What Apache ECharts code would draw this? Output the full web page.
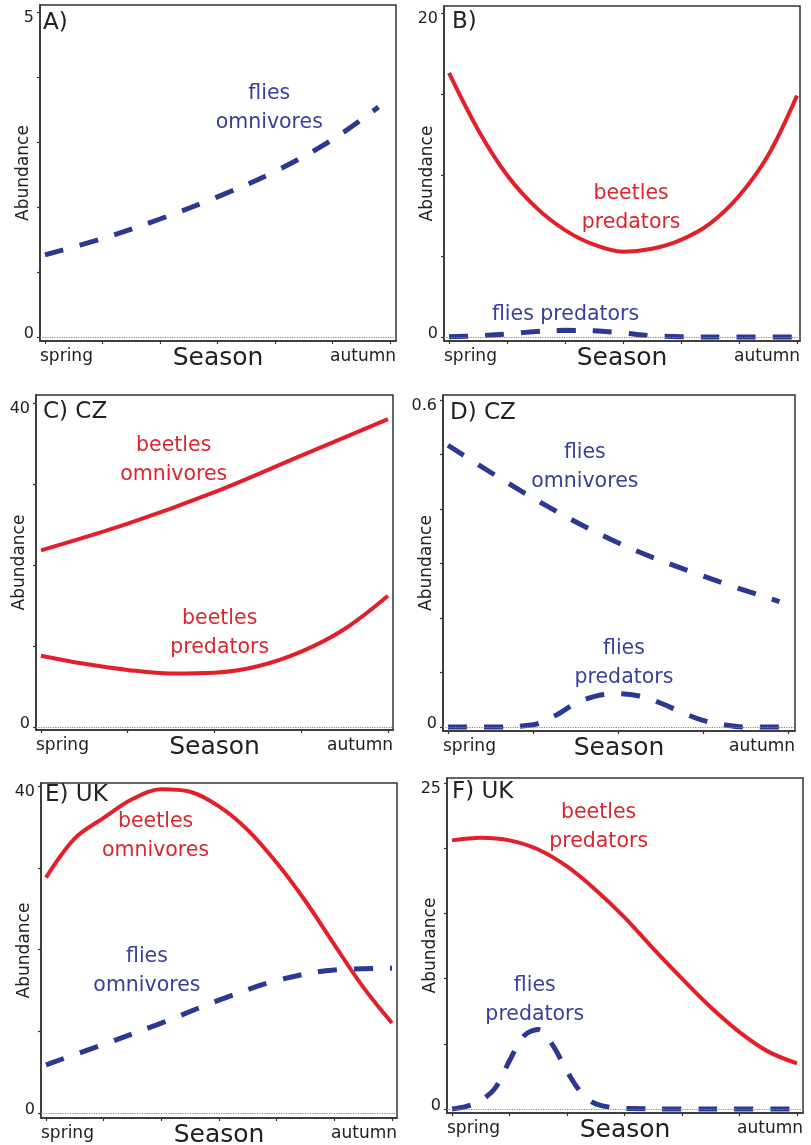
<!DOCTYPE html>
<html><head><meta charset="utf-8">
<script src="https://cdn.jsdelivr.net/npm/echarts@6/dist/echarts.min.js"></script>
<style>html,body{margin:0;padding:0;background:#fff}#c{width:811px;height:1145px}</style>
</head><body><div id="c"></div>
<script>
// ---------------- data ----------------
const panelTitles = ['A)', 'B)', 'C) CZ', 'D) CZ', 'E) UK', 'F) UK'];
const xLabels = ['spring', 'autumn'];
const xName = 'Season';
const yName = 'Abundance';
const seasonMax = [6, 6, 4, 4, 6, 6];
const seasonTicks = [
  [0, 1, 2, 3, 4, 5, 6], [0, 1, 2, 3, 4, 5, 6], [0, 1, 2, 3, 4],
  [0, 1, 2, 3, 4], [0, 1, 2, 3, 4, 5, 6], [0, 1, 2, 3, 4, 5, 6]
];
const yMax = [5, 20, 40, 0.6, 40, 25];
const yTicks = [
  [0, 1, 2, 3, 4, 5], [0, 5, 10, 15, 20], [0, 10, 20, 30, 40],
  [0, 0.1, 0.2, 0.3, 0.4, 0.5, 0.6], [0, 10, 20, 30, 40], [0, 5, 10, 15, 20, 25]
];
const yTickLabels = [['0', '5'], ['0', '20'], ['0', '40'], ['0', '0.6'], ['0', '40'], ['0', '25']];

// A) flies omnivores
const aFliesOmniX = [0, 1, 2, 3, 4, 5, 5.8];
const aFliesOmniY = [1.27, 1.52, 1.82, 2.16, 2.55, 3.04, 3.54];
// B) beetles predators, flies predators
const bBeetlesPredX = [0, 0.5, 1, 1.5, 2, 2.5, 3, 3.5, 4, 4.5, 5, 5.5, 6];
const bBeetlesPredY = [16.3, 12.8, 10.0, 8.0, 6.6, 5.7, 5.27, 5.45, 6.0, 7.0, 8.7, 11.2, 14.9];
const bFliesPredX = [0, 0.5, 1, 1.5, 2, 2.5, 3, 3.5, 4, 5, 6];
const bFliesPredY = [0.02, 0.08, 0.18, 0.34, 0.41, 0.38, 0.25, 0.08, 0.02, 0, 0];
// C) CZ beetles omnivores, beetles predators
const cBeetlesOmniX = [0, 1, 2, 3, 4];
const cBeetlesOmniY = [21.8, 25.1, 29.0, 33.5, 38.0];
const cBeetlesPredX = [0, 0.5, 1, 1.5, 2, 2.5, 3, 3.5, 4];
const cBeetlesPredY = [8.8, 7.8, 7.05, 6.6, 6.7, 7.5, 9.3, 12.1, 16.2];
// D) CZ flies omnivores, flies predators
const dFliesOmniX = [0, 1, 2, 3, 3.9];
const dFliesOmniY = [0.517, 0.42, 0.338, 0.277, 0.23];
const dFliesPredX = [0, 0.5, 1, 1.25, 1.5, 1.75, 2, 2.25, 2.5, 2.75, 3, 3.25, 3.5, 4];
const dFliesPredY = [0, 0, 0.004, 0.02, 0.043, 0.057, 0.061, 0.057, 0.044, 0.027, 0.012, 0.004, 0, 0];
// E) UK beetles omnivores, flies omnivores
const eBeetlesOmniX = [0, 0.5, 1, 1.5, 2, 2.5, 3, 3.5, 4, 4.5, 5, 5.5, 6];
const eBeetlesOmniY = [28.8, 33.6, 36.1, 38.4, 39.6, 39.3, 37.5, 34.6, 30.6, 25.9, 20.6, 15.4, 11.0];
const eFliesOmniX = [0, 1, 2, 3, 4, 5, 6];
const eFliesOmniY = [5.9, 8.4, 11.0, 13.8, 16.2, 17.5, 17.7];
// F) UK beetles predators, flies predators
const fBeetlesPredX = [0, 0.5, 1, 1.5, 2, 2.5, 3, 3.5, 4, 4.5, 5, 5.5, 6];
const fBeetlesPredY = [20.6, 20.8, 20.6, 19.9, 18.6, 16.8, 14.7, 12.3, 10.0, 7.8, 5.9, 4.4, 3.5];
const fFliesPredX = [0, 0.25, 0.5, 0.75, 1, 1.25, 1.5, 1.75, 2, 2.25, 2.5, 3, 4, 5, 6];
const fFliesPredY = [0, 0.2, 0.65, 1.6, 3.7, 5.6, 6.1, 4.9, 2.9, 1.25, 0.4, 0.05, 0, 0, 0];

// series text
const seriesNames = {
  aFO: 'flies\nomnivores', bBP: 'beetles\npredators', bFP: 'flies predators',
  cBO: 'beetles\nomnivores', cBP: 'beetles\npredators', dFO: 'flies\nomnivores',
  dFP: 'flies\npredators', eBO: 'beetles\nomnivores', eFO: 'flies\nomnivores',
  fBP: 'beetles\npredators', fFP: 'flies\npredators'
};

// ---------------- layout / style ----------------
const FONT = '"DejaVu Sans", sans-serif';
const RED = '#e2202a', BLUE = '#2b3990';
const RED_TXT = '#d9262f', BLUE_TXT = '#3a3f97';
const panelBoxes = [[40, 5, 396, 341], [444, 6, 800, 341], [36, 395, 393, 730],
                    [443, 395, 795, 731], [41, 783, 397, 1118], [447, 778, 803, 1113]];
const panelPads = [[5, 7, 6, 3.5], [5, 7, 3, 4], [5, 8, 5, 3], [5, 5, 7, 4], [5, 3, 5, 5], [5, 5, 6, 4]]; // l,t,r,b
const titleOffsets = [[3, 18.5], [8, 16], [7, 17.5], [7, 18.5], [4, 12.5], [5, 14.5]];
// label anchors in data units
const labelAnchors = {
  aFO: [3.9, 3.53], bBP: [3.14, 7.93], bFP: [2.01, 1.36], cBO: [1.53, 32.96], cBP: [2.06, 11.6],
  dFO: [1.61, 0.476], dFP: [2.07, 0.118], eBO: [1.9, 33.9], eFO: [1.75, 17.4],
  fBP: [2.55, 21.6], fFP: [1.44, 8.36]
};

const seriesDefs = [
  { p: 0, key: 'aFO', kind: 'fly', x: aFliesOmniX, y: aFliesOmniY },
  { p: 1, key: 'bBP', kind: 'beetle', x: bBeetlesPredX, y: bBeetlesPredY },
  { p: 1, key: 'bFP', kind: 'fly', x: bFliesPredX, y: bFliesPredY },
  { p: 2, key: 'cBO', kind: 'beetle', x: cBeetlesOmniX, y: cBeetlesOmniY },
  { p: 2, key: 'cBP', kind: 'beetle', x: cBeetlesPredX, y: cBeetlesPredY },
  { p: 3, key: 'dFO', kind: 'fly', x: dFliesOmniX, y: dFliesOmniY },
  { p: 3, key: 'dFP', kind: 'fly', x: dFliesPredX, y: dFliesPredY },
  { p: 4, key: 'eBO', kind: 'beetle', x: eBeetlesOmniX, y: eBeetlesOmniY },
  { p: 4, key: 'eFO', kind: 'fly', x: eFliesOmniX, y: eFliesOmniY },
  { p: 5, key: 'fBP', kind: 'beetle', x: fBeetlesPredX, y: fBeetlesPredY },
  { p: 5, key: 'fFP', kind: 'fly', x: fFliesPredX, y: fFliesPredY }
];

function extend(lo, hi, pxLen, padLo, padHi) {
  const u = (pxLen - padLo - padHi) / (hi - lo);
  return [lo - padLo / u, hi + padHi / u];
}

const grids = [], xAxes = [], yAxes = [], titles = [];
panelBoxes.forEach((b, i) => {
  const w = b[2] - b[0], h = b[3] - b[1];
  const pad = panelPads[i];
  const xr = extend(0, seasonMax[i], w, pad[0], pad[2]);
  const yr = extend(0, yMax[i], h, pad[3], pad[1]);
  grids.push({ left: b[0], top: b[1], width: w, height: h, show: true, borderColor: '#333',
    borderWidth: 1.5, containLabel: false, outerBoundsMode: 'none' });
  const mid = (xr[0] + xr[1]) / 2;
  xAxes.push({
    type: 'value', gridIndex: i, min: xr[0], max: xr[1],
    axisLine: { show: true, onZero: false, lineStyle: { color: '#333', width: 1.5 } },
    axisTick: { show: true, customValues: seasonTicks[i], length: 3, lineStyle: { color: '#333', width: 1.2 } },
    axisLabel: { customValues: [xr[0], xr[1]], formatter: v => (v < mid ? xLabels[0] : xLabels[1]),
      alignMinLabel: 'left', alignMaxLabel: 'right', margin: 7, fontSize: 17, color: '#222', fontFamily: FONT },
    splitLine: { show: false },
    name: xName, nameLocation: 'middle', nameGap: 5, nameMoveOverlap: false,
    nameTextStyle: { fontSize: 25, color: '#222', fontFamily: FONT }
  });
  const lbl = yTickLabels[i];
  yAxes.push({
    type: 'value', gridIndex: i, min: yr[0], max: yr[1],
    axisLine: { show: true, onZero: false, lineStyle: { color: '#333', width: 1.5 } },
    axisTick: { show: true, customValues: yTicks[i], length: 3, lineStyle: { color: '#333', width: 1.2 } },
    axisLabel: { customValues: [0, yMax[i]], margin: 6, fontSize: 16, color: '#222', fontFamily: FONT,
      formatter: v => (v === 0 ? '{b|' + lbl[0] + '}' : '{t|' + lbl[1] + '}'),
      rich: {
        t: { padding: [12, 0, 0, 0], fontSize: 16, color: '#222', fontFamily: FONT },
        b: { padding: [0, 0, 7, 0], fontSize: 16, color: '#222', fontFamily: FONT }
      } },
    splitLine: { show: false },
    name: yName, nameLocation: 'middle', nameGap: 8, nameMoveOverlap: false,
    nameTextStyle: { fontSize: 17, color: '#222', fontFamily: FONT }
  });
  titles.push({ text: panelTitles[i], left: b[0] + titleOffsets[i][0], top: b[1] + titleOffsets[i][1] - 11.5,
    padding: 0, textStyle: { fontSize: 23, fontWeight: 'normal', color: '#222', fontFamily: FONT } });
});

const series = [];
// zero reference dotted lines
panelBoxes.forEach((b, i) => {
  series.push({ type: 'line', xAxisIndex: i, yAxisIndex: i, data: [], silent: true,
    markLine: { silent: true, symbol: ['none', 'none'], label: { show: false },
      lineStyle: { type: 'dotted', color: '#888', width: 1.2 }, data: [{ yAxis: 0 }] } });
});
seriesDefs.forEach(d => {
  const isFly = d.kind === 'fly';
  series.push({
    type: 'line', xAxisIndex: d.p, yAxisIndex: d.p, smooth: 0.35, showSymbol: false, silent: true,
    data: d.x.map((xv, k) => [xv, d.y[k]]),
    lineStyle: isFly ? { color: BLUE, width: 5, type: [19, 17], cap: 'butt' } : { color: RED, width: 4 },
    z: isFly ? 3 : 2,
    markPoint: { symbol: 'rect', symbolSize: 1, itemStyle: { color: 'rgba(0,0,0,0)' }, silent: true,
      label: { show: true, position: 'inside', formatter: seriesNames[d.key], color: isFly ? BLUE_TXT : RED_TXT,
        fontSize: 20.5, lineHeight: 29, fontFamily: FONT },
      data: [{ coord: labelAnchors[d.key] }] }
  });
});

const chart = echarts.init(document.getElementById('c'), null, { renderer: 'canvas' });
chart.setOption({ animation: false, backgroundColor: '#fff', title: titles, grid: grids,
  xAxis: xAxes, yAxis: yAxes, series: series });
</script></body></html>
